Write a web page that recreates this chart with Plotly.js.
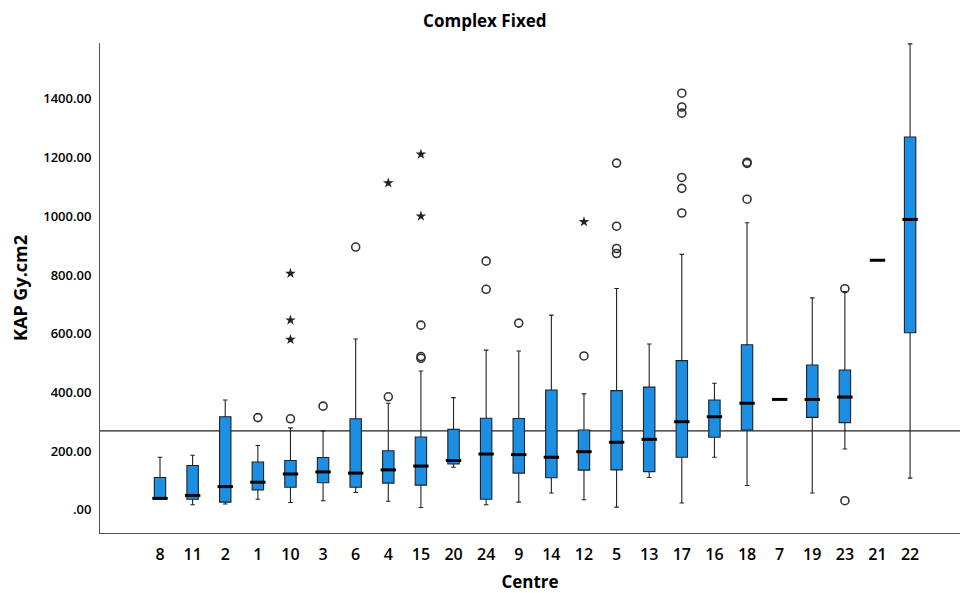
<!DOCTYPE html>
<html>
<head>
<meta charset="utf-8">
<script src="https://cdn.plot.ly/plotly-3.0.1.min.js"></script>
<style>html,body{margin:0;padding:0;background:#fff;}#chart{width:960px;height:593px;}</style>
</head>
<body>
<div id="chart"></div>
<script>
// Centre order as shown on the axis
const centres = ["8","11","2","1","10","3","6","4","15","20","24","9","14","12","5","13","17","16","18","7","19","23","21","22"];
// Box statistics (KAP Gy.cm2)
const lowerWhisker = [36, 17, 20, 36, 25, 31, 59, 29, 8, 145, 17, 26, 57, 34, 9, 110, 23, 179, 83, 376, 57, 207, 850, 108];
const q1Values     = [37, 36, 26, 68, 77, 92, 77, 91, 84, 156, 36, 125, 109, 135, 136, 130, 179, 247, 272, 376, 315, 297, 850, 603];
const medians      = [39, 49, 79, 94, 122, 129, 125, 136, 149, 168, 190, 188, 179, 198, 230, 240, 300, 317, 363, 376, 376, 384, 850, 989];
const q3Values     = [110, 151, 317, 163, 168, 178, 310, 201, 248, 274, 312, 311, 408, 272, 406, 418, 508, 374, 562, 376, 493, 476, 850, 1270];
const upperWhisker = [179, 186, 374, 219, 279, 269, 582, 363, 473, 382, 544, 541, 663, 395, 754, 565, 870, 431, 978, 376, 722, 743, 850, 1587];
// Outliers (circles) and extreme values (stars)
const outlierCentre = ["1","10","3","6","4","15","15","15","24","24","9","12","5","5","5","5","17","17","17","17","17","17","18","18","18","23","23"];
const outlierValue  = [314, 310, 353, 895, 385, 629, 522, 516, 847, 751, 636, 524, 1181, 966, 890, 873, 1419, 1372, 1351, 1132, 1095, 1011, 1184, 1180, 1058, 753, 31];
const extremeCentre = ["10","10","10","4","15","15","12"];
const extremeValue  = [805, 646, 580, 1113, 1211, 1000, 981];
// Reference line value
const referenceValue = 269;
// Y tick labels
const yTickVals = [0, 200, 400, 600, 800, 1000, 1200, 1400];
const yTickText = [".00", "200.00", "400.00", "600.00", "800.00", "1000.00", "1200.00", "1400.00"];

const FONT = "Open Sans, Lato, sans-serif";
const traces = [
  {
    type: "box",
    x: centres,
    q1: q1Values,
    median: medians,
    q3: q3Values,
    lowerfence: lowerWhisker,
    upperfence: upperWhisker,
    boxpoints: false,
    width: 0.35,
    whiskerwidth: 0.4,
    fillcolor: "#1a8fe3",
    line: {color: "#222", width: 1.1},
    hoverinfo: "skip",
    showlegend: false
  },
  {
    type: "scatter",
    mode: "markers",
    x: centres,
    y: medians,
    marker: {symbol: "line-ew", size: 11, line: {color: "#000", width: 3}},
    hoverinfo: "skip",
    showlegend: false
  },
  {
    type: "scatter",
    mode: "markers",
    x: outlierCentre,
    y: outlierValue,
    marker: {symbol: "circle-open", size: 8, color: "#333", line: {color: "#333", width: 1.6}},
    showlegend: false
  },
  {
    type: "scatter",
    mode: "markers",
    x: extremeCentre,
    y: extremeValue,
    marker: {symbol: "star", size: 8, color: "#222", line: {width: 0}},
    showlegend: false
  }
];

const layout = {
  width: 960,
  height: 593,
  margin: {l: 100, r: 0, t: 43, b: 60},
  paper_bgcolor: "#fff",
  plot_bgcolor: "#fff",
  font: {family: FONT, color: "#000"},
  title: {text: "Complex Fixed", font: {family: FONT, size: 17, weight: 700, color: "#000"}, x: 0.505, xref: "container", y: 0.965, yanchor: "middle"},
  xaxis: {
    type: "category",
    categoryorder: "array",
    categoryarray: centres,
    range: [-1.84, 24.53],
    showgrid: false,
    zeroline: false,
    showline: true,
    linecolor: "#555",
    linewidth: 1,
    ticks: "",
    ticklabelstandoff: 7,
    tickfont: {family: FONT, size: 16, weight: 600, color: "#000"},
    title: {text: "Centre", font: {family: FONT, size: 17, weight: 700, color: "#000"}, standoff: 12},
    automargin: false
  },
  yaxis: {
    range: [-79, 1590],
    tickvals: yTickVals,
    ticktext: yTickText,
    showgrid: false,
    zeroline: false,
    showline: true,
    linecolor: "#555",
    linewidth: 1,
    ticks: "",
    ticklabelstandoff: 5,
    tickfont: {family: FONT, size: 13, weight: 600, color: "#000"},
    title: {text: "KAP Gy.cm2", font: {family: FONT, size: 18, weight: 700, color: "#000"}, standoff: 10},
    automargin: false
  },
  shapes: [
    {type: "line", xref: "paper", x0: 0, x1: 1, yref: "y", y0: referenceValue, y1: referenceValue, line: {color: "#222", width: 1.2}, layer: "below"}
  ]
};

Plotly.newPlot("chart", traces, layout, {displayModeBar: false, staticPlot: true});
</script>
</body>
</html>
